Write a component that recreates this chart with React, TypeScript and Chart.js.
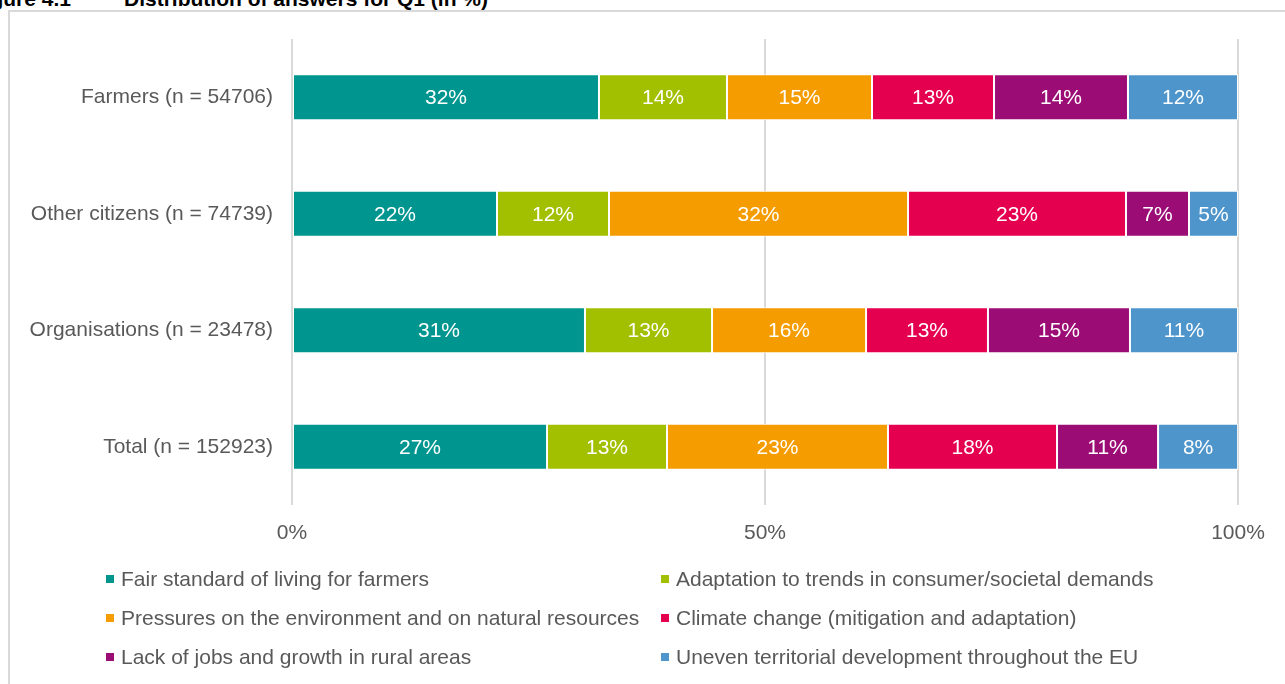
import React, { useEffect, useLayoutEffect, useRef } from 'react';
import { Chart, registerables } from 'chart.js';

Chart.register(...registerables);

const categories = [
  'Farmers (n = 54706)',
  'Other citizens (n = 74739)',
  'Organisations (n = 23478)',
  'Total (n = 152923)',
];

const seriesNames = [
  'Fair standard of living for farmers',
  'Adaptation to trends in consumer/societal demands',
  'Pressures on the environment and on natural resources',
  'Climate change (mitigation and adaptation)',
  'Lack of jobs and growth in rural areas',
  'Uneven territorial development throughout the EU',
];

const seriesColors = ['#00968F', '#A2C000', '#F59C00', '#E5004F', '#9B0C75', '#4E95CC'];

const fairStandard = [32.45, 21.67, 30.97, 26.96];
const adaptation = [13.53, 11.84, 13.43, 12.68];
const pressures = [15.33, 31.61, 16.28, 23.36];
const climate = [12.9, 23.04, 12.89, 17.87];
const jobs = [14.16, 6.66, 15.01, 10.68];
const uneven = [11.63, 5.18, 11.42, 8.46];

const seriesValues = [fairStandard, adaptation, pressures, climate, jobs, uneven];

const xTickValues = [0, 50, 100];

const FONT = '"Liberation Sans", Arial, Helvetica, sans-serif';
const TEXT_GRAY = '#595959';

const valueLabelPlugin = {
  id: 'valueLabels',
  afterDatasetsDraw(chart: any) {
    const ctx = chart.ctx;
    ctx.save();
    ctx.font = `21px ${FONT}`;
    ctx.fillStyle = '#ffffff';
    ctx.textAlign = 'center';
    ctx.textBaseline = 'middle';
    chart.data.datasets.forEach((ds: any, di: number) => {
      const meta = chart.getDatasetMeta(di);
      meta.data.forEach((el: any, i: number) => {
        const v = ds.data[i];
        const cx = (el.x + el.base) / 2;
        ctx.fillText(`${Math.round(v)}%`, cx, el.y + 1);
      });
    });
    ctx.restore();
  },
};

export default function App() {
  const canvasRef = useRef<HTMLCanvasElement | null>(null);

  useLayoutEffect(() => {
    document.body.style.margin = '0';
  }, []);

  useEffect(() => {
    if (!canvasRef.current) return;
    const chart = new Chart(canvasRef.current, {
      type: 'bar',
      data: {
        labels: categories,
        datasets: seriesValues.map((vals, i) => ({
          label: seriesNames[i],
          data: vals,
          backgroundColor: seriesColors[i],
          borderColor: '#ffffff',
          borderWidth: 1,
          borderSkipped: false,
          barPercentage: 0.395,
          categoryPercentage: 1,
        })),
      },
      options: {
        indexAxis: 'y',
        animation: false,
        responsive: false,
        devicePixelRatio: 1,
        layout: { padding: { top: 39, left: 0, right: 47, bottom: 129 } },
        plugins: {
          legend: { display: false },
          tooltip: { enabled: false },
          title: { display: false },
        },
        scales: {
          x: {
            stacked: true,
            min: 0,
            max: 100,
            afterBuildTicks: (scale: any) => {
              scale.ticks = xTickValues.map((v) => ({ value: v }));
            },
            afterFit: (scale: any) => {
              scale.height = 50;
            },
            ticks: {
              color: TEXT_GRAY,
              font: { family: FONT, size: 21 },
              padding: 16,
              maxRotation: 0,
              callback: (v: any) => `${v}%`,
            },
            grid: { color: '#d9d9d9', lineWidth: 2, drawTicks: false },
            border: { display: false },
          },
          y: {
            stacked: true,
            afterFit: (scale: any) => {
              scale.width = 292;
            },
            ticks: {
              color: TEXT_GRAY,
              font: { family: FONT, size: 21 },
              padding: 19,
            },
            grid: { display: false, drawTicks: false },
            border: { display: false },
          },
        },
      } as any,
      plugins: [valueLabelPlugin],
    });
    return () => chart.destroy();
  }, []);

  const legendCols = [106, 661];
  const legendRows = [579, 618, 657];

  return (
    <div
      style={{
        position: 'relative',
        width: 1285,
        height: 684,
        overflow: 'hidden',
        background: '#ffffff',
        fontFamily: FONT,
      }}
    >
      <div
        style={{
          position: 'absolute',
          left: 8,
          top: 10,
          width: 1300,
          height: 700,
          border: '2px solid #d9d9d9',
          boxSizing: 'border-box',
        }}
      />
      <div
        style={{
          position: 'absolute',
          right: 1285 - 71,
          top: -12,
          fontSize: 21,
          lineHeight: '21px',
          fontWeight: 'bold',
          whiteSpace: 'nowrap',
          color: '#000',
        }}
      >
        Figure 4.1
      </div>
      <div
        style={{
          position: 'absolute',
          left: 124,
          top: -12,
          fontSize: 21,
          lineHeight: '21px',
          fontWeight: 'bold',
          whiteSpace: 'nowrap',
          color: '#000',
        }}
      >
        Distribution of answers for Q1 (in %)
      </div>
      <canvas
        ref={canvasRef}
        width={1285}
        height={684}
        style={{ position: 'absolute', left: 0, top: 0, width: 1285, height: 684 }}
      />
      {seriesNames.map((name, i) => {
        const col = i % 2;
        const row = Math.floor(i / 2);
        return (
          <div
            key={name}
            style={{
              position: 'absolute',
              left: legendCols[col],
              top: legendRows[row] - 12,
              height: 24,
              display: 'flex',
              alignItems: 'center',
              whiteSpace: 'nowrap',
              fontSize: 21,
              color: TEXT_GRAY,
            }}
          >
            <span
              style={{
                display: 'inline-block',
                width: 8,
                height: 8,
                background: seriesColors[i],
                marginRight: 7,
              }}
            />
            <span>{name}</span>
          </div>
        );
      })}
    </div>
  );
}
